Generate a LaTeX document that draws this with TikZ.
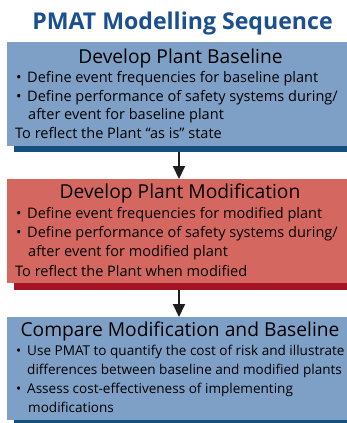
\documentclass[tikz,border=0pt]{standalone}
\usepackage{fontspec}
\setmainfont{Open Sans}
\usetikzlibrary{arrows.meta}
\definecolor{boxblue}{RGB}{127,160,198}
\definecolor{barblue}{RGB}{20,80,125}
\definecolor{boxred}{RGB}{212,103,95}
\definecolor{barred}{RGB}{165,20,36}
\definecolor{titleblue}{RGB}{27,79,142}
\definecolor{arrowgray}{RGB}{30,30,30}
\tikzset{
  panel/.style={rectangle, inner sep=0pt, outer sep=0pt, anchor=north west, minimum width=340bp},
  bar/.style={rectangle, inner sep=0pt, outer sep=0pt, anchor=north west, minimum width=333bp, minimum height=6bp},
  hdr/.style={inner sep=0pt, anchor=base, font=\fontsize{19.3}{21}\selectfont, text=black},
  txt/.style={inner sep=0pt, anchor=base west, font=\fontsize{14.6}{16}\selectfont, text=black},
  small/.style={inner sep=0pt, anchor=base west, font=\fontsize{13.6}{15}\selectfont, text=black},
  arr/.style={draw=arrowgray, line width=2bp, -{Triangle[width=12bp,length=13bp]}, shorten <=0pt},
}
\begin{document}
\begin{tikzpicture}[x=1bp,y=-1bp]
\useasboundingbox (0,0) rectangle (347,423);
\fill[white] (0,0) rectangle (347,423);
\node[inner sep=0pt, anchor=base, font=\fontsize{23.2}{26}\selectfont\bfseries, text=titleblue] (title) at (182.5,29) {PMAT Modelling Sequence};
% box 1
\node[bar, fill=barblue] (bar1) at (14,146) {};
\node[panel, fill=boxblue, minimum height=104bp] (box1) at (7,42) {};
\node[hdr] (h1) at (180.5,63) {Develop Plant Baseline};
\node[txt] (d11) at (16,82) {•};
\node[txt] (t11) at (27,82) {Define event frequencies for baseline plant};
\node[txt] (d12) at (16,101) {•};
\node[txt] (t12) at (27,101) {Define performance of safety systems during/};
\node[txt] (t13) at (28,119.5) {after event for baseline plant};
\node[txt] (t14) at (15,138) {To reflect the Plant “as is” state};
% box 2
\node[bar, fill=barred, minimum height=7bp] (bar2) at (14,283) {};
\node[panel, fill=boxred, minimum height=104bp] (box2) at (7,179) {};
\node[hdr] (h2) at (180,198.3) {Develop Plant Modification};
\node[txt] (d21) at (16,218) {•};
\node[txt] (t21) at (27,218) {Define event frequencies for modified plant};
\node[txt] (d22) at (16,237.5) {•};
\node[txt] (t22) at (27,237.5) {Define performance of safety systems during/};
\node[txt] (t23) at (28,256.5) {after event for modified plant};
\node[txt] (t24) at (15,276.5) {To reflect the Plant when modified};
% box 3
\node[bar, fill=barblue, minimum height=7bp] (bar3) at (14,420) {};
\node[panel, fill=boxblue, minimum height=103bp] (box3) at (7,317) {};
\node[hdr] (h3) at (180,336.7) {Compare Modification and Baseline};
\node[small] (d31) at (16,355) {•};
\node[small] (t31) at (27,355) {Use PMAT to quantify the cost of risk and illustrate};
\node[small] (t32) at (27,374) {differences between baseline and modified plants};
\node[small] (d32) at (16,393.3) {•};
\node[small] (t33) at (27,393.3) {Assess cost-effectiveness of implementing};
\node[small] (t34) at (28,412.7) {modifications};
% arrows
\coordinate (ax) at (179,0);
\draw[arr] (bar1.south -| ax) -- (box2.north -| ax);
\draw[arr] (bar2.south -| ax) -- (box3.north -| ax);
\end{tikzpicture}
\end{document}
